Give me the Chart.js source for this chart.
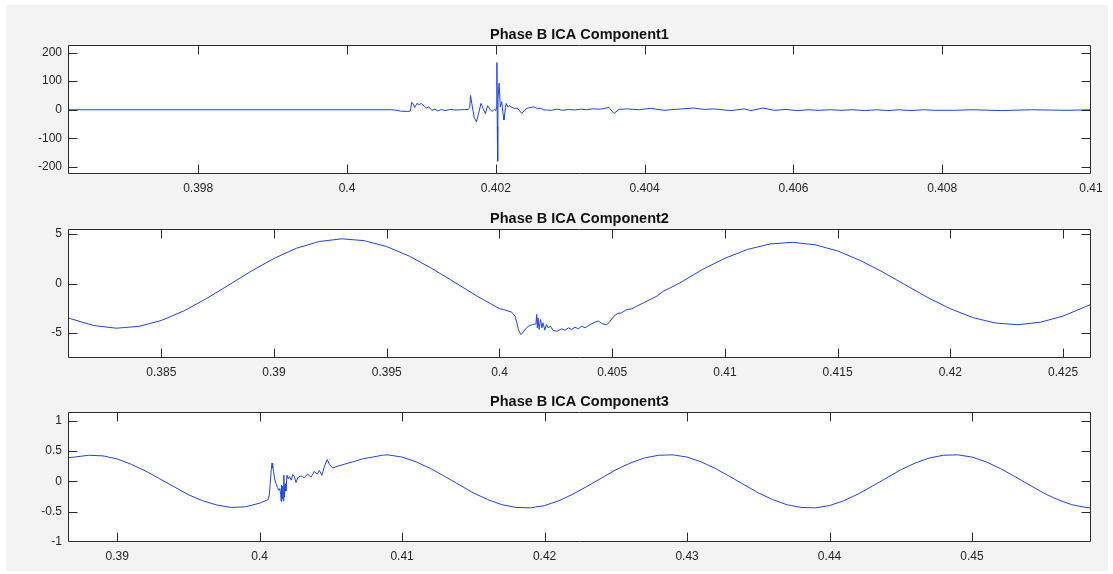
<!DOCTYPE html>
<html><head><meta charset="utf-8">
<script src="https://cdn.jsdelivr.net/npm/chart.js@4.4.1/dist/chart.umd.min.js"></script>
<style>
html,body{margin:0;padding:0;background:#fff;width:1113px;height:574px;overflow:hidden}
#fig{position:absolute;left:6px;top:5px;width:1102px;height:566px;background:#f3f3f3}
canvas{position:absolute;left:0}
</style></head><body>
<div id="fig"></div>
<canvas id="c1" width="1113" height="178" style="top:26px"></canvas>
<canvas id="c2" width="1113" height="178" style="top:210px"></canvas>
<canvas id="c3" width="1113" height="179" style="top:393px"></canvas>
<script>
// ---------- DATA ----------
const titles = ["Phase B ICA Component1", "Phase B ICA Component2", "Phase B ICA Component3"];

const comp1X = [0.39625,0.4006,0.40067,0.40072,0.4008,0.40085,0.40087,0.40089,0.40091,0.40094,0.40097,0.401,0.40104,0.40107,0.4011,0.40114,0.40118,0.40122,0.40127,0.40132,0.40138,0.40145,0.40155,0.40163,0.40165,0.40166,0.40168,0.40171,0.40174,0.40177,0.4018,0.40183,0.40186,0.40189,0.40192,0.40195,0.40198,0.402,0.40201,0.402015,0.40202,0.402025,0.40203,0.402045,0.40206,0.40208,0.4021,0.40211,0.40213,0.40214,0.40216,0.40218,0.40222,0.40226,0.40229,0.40232,0.40235,0.40239,0.40242,0.40246,0.40251,0.40256,0.4026,0.40264,0.40269,0.40275,0.40282,0.4029,0.40298,0.40306,0.40314,0.40322,0.4033,0.40341,0.40352,0.40359,0.40365,0.40377,0.40392,0.40408,0.40426,0.40445,0.40466,0.4048,0.40493,0.40516,0.40534,0.40543,0.40559,0.40574,0.4059,0.40606,0.4062,0.40633,0.4065,0.40664,0.4068,0.40696,0.40712,0.40727,0.40742,0.40758,0.40775,0.4079,0.40817,0.4084,0.4088,0.4092,0.40969,0.41];
const comp1Y = [0,0,-2,-5,-6,-5,26,20,8,22,18,22,12,6,10,-2,2,-4,1,-3,1,-1,0,1,8,50,18,-28,-42,-12,22,4,-14,14,2,-6,2,-3,8,165,-60,-180,40,93,10,28,-20,-36,8,22,10,14,8,4,6,-4,-13,0,5,8,10,4,5,0,-1,-2,2,-2,1,-1,2,0,3,2,8,-13,1,3,0,5,-2,2,6,1,3,-3,3,-3,6,-2,1,-3,0,-2,0,-2,0,-3,0,-3,0,-3,0,-2,-2,0,-3,0,-2,0];

const comp2X = [0.38086,0.381,0.382,0.383,0.384,0.385,0.386,0.387,0.388,0.389,0.39,0.391,0.392,0.393,0.394,0.395,0.396,0.397,0.398,0.399,0.4,0.40017,0.40055,0.40069,0.40077,0.40084,0.40094,0.40103,0.40113,0.40128,0.40147,0.40162,0.40165,0.40168,0.40171,0.40176,0.40182,0.40188,0.40193,0.40201,0.40208,0.40216,0.40226,0.40238,0.40254,0.40276,0.40291,0.40306,0.40321,0.40335,0.4035,0.40365,0.4038,0.40402,0.40424,0.40439,0.40454,0.40476,0.40491,0.40505,0.40523,0.40542,0.40564,0.40587,0.40609,0.40639,0.40668,0.40698,0.40727,0.40757,0.40801,0.409,0.41,0.411,0.412,0.413,0.414,0.415,0.416,0.417,0.418,0.419,0.42,0.421,0.422,0.423,0.424,0.425,0.426,0.42624];
const comp2Y = [-3.45,-3.56,-4.23,-4.5,-4.32,-3.72,-2.76,-1.52,-0.14,1.26,2.53,3.56,4.23,4.5,4.32,3.72,2.76,1.52,0.14,-1.26,-2.53,-2.62,-2.89,-3.29,-3.96,-4.63,-5.13,-4.97,-4.63,-4.3,-4.13,-4.06,-3.12,-4.46,-3.46,-4.63,-3.63,-4.46,-3.96,-4.7,-4.13,-4.46,-4.3,-4.73,-4.8,-4.56,-4.7,-4.46,-4.63,-4.4,-4.56,-4.3,-4.46,-4.13,-3.89,-3.79,-4.03,-4.16,-3.79,-3.36,-3.02,-2.95,-2.62,-2.55,-2.28,-1.95,-1.61,-1.28,-0.77,-0.44,0.07,1.41,2.54,3.43,3.98,4.15,3.9,3.28,2.33,1.16,-0.13,-1.41,-2.54,-3.43,-3.98,-4.15,-3.9,-3.28,-2.33,-2.1];

const comp3X = [0.38655,0.387,0.388,0.389,0.39,0.391,0.392,0.393,0.394,0.395,0.396,0.397,0.398,0.399,0.4,0.4006,0.40068,0.40074,0.40082,0.40087,0.4009,0.40093,0.40098,0.40105,0.40115,0.40125,0.40135,0.40142,0.40148,0.40151,0.40154,0.40158,0.40162,0.40166,0.4017,0.40174,0.40179,0.40184,0.40192,0.402,0.4021,0.40222,0.40232,0.40244,0.40255,0.40268,0.4029,0.40313,0.40337,0.4036,0.40384,0.40405,0.40419,0.40437,0.40454,0.40474,0.4049,0.40512,0.4055,0.40605,0.40652,0.40722,0.40792,0.40861,0.409,0.41,0.411,0.412,0.413,0.414,0.415,0.416,0.417,0.418,0.419,0.42,0.421,0.422,0.423,0.424,0.425,0.426,0.427,0.428,0.429,0.43,0.431,0.432,0.433,0.434,0.435,0.436,0.437,0.438,0.439,0.44,0.441,0.442,0.443,0.444,0.445,0.446,0.447,0.448,0.449,0.45,0.451,0.452,0.453,0.454,0.455,0.456,0.457,0.458,0.45835];
const comp3Y = [0.39,0.4,0.43,0.42,0.37,0.28,0.17,0.04,-0.09,-0.22,-0.32,-0.39,-0.43,-0.42,-0.36,-0.3,-0.22,-0.05,0.2,0.3,0.22,0.26,0.16,0.04,-0.04,-0.1,-0.15,-0.12,-0.22,-0.33,-0.06,-0.28,-0.08,-0.32,0.1,-0.26,-0.04,-0.16,0.1,0.04,0.08,0.02,0.11,0.08,-0.02,0.06,0.09,0.06,0.12,0.07,0.16,0.12,0.18,0.1,0.24,0.36,0.28,0.22,0.25,0.29,0.32,0.37,0.4,0.43,0.437,0.4,0.32,0.21,0.08,-0.055,-0.19,-0.3,-0.385,-0.43,-0.437,-0.4,-0.32,-0.21,-0.08,0.055,0.19,0.3,0.385,0.43,0.437,0.4,0.32,0.21,0.08,-0.055,-0.19,-0.3,-0.385,-0.43,-0.437,-0.4,-0.32,-0.21,-0.08,0.055,0.19,0.3,0.385,0.43,0.437,0.4,0.32,0.21,0.08,-0.055,-0.19,-0.3,-0.385,-0.43,-0.44];

const xTicks1 = [0.398,0.4,0.402,0.404,0.406,0.408,0.41];
const yTicks1 = [-200,-100,0,100,200];
const xTicks2 = [0.385,0.39,0.395,0.4,0.405,0.41,0.415,0.42,0.425];
const yTicks2 = [-5,0,5];
const xTicks3 = [0.39,0.4,0.41,0.42,0.43,0.44,0.45];
const yTicks3 = [-1,-0.5,0,0.5,1];

const xRange1 = [0.39625, 0.41], yRange1 = [-225, 226];
const xRange2 = [0.38086, 0.42624], yRange2 = [-7.5, 5.47];
const xRange3 = [0.38655, 0.45835], yRange3 = [-1, 1.14];

// ---------- RENDER ----------
const FONT = "'Liberation Sans', Arial, Helvetica, sans-serif";
const fmt = v => parseFloat(Number(v).toFixed(4)).toString();

const framePlugin = {
  id: 'matlabFrame',
  beforeDraw(chart) {
    const a = chart.chartArea, c = chart.ctx;
    c.save(); c.fillStyle = '#ffffff';
    c.fillRect(a.left, a.top, a.right - a.left, a.bottom - a.top);
    c.restore();
  },
  afterDraw(chart) {
    const a = chart.chartArea, c = chart.ctx;
    const L = Math.round(a.left) + 0.5, R = Math.round(a.right) - 0.5;
    const T = Math.round(a.top) + 0.5, B = Math.round(a.bottom) - 0.5;
    const tl = 9;
    c.save();
    c.strokeStyle = '#2b2b2b'; c.lineWidth = 1;
    c.beginPath();
    c.rect(L, T, R - L, B - T);
    const xs = chart.scales.x, ys = chart.scales.y;
    xs.ticks.forEach(t => {
      const p = Math.round(xs.getPixelForValue(t.value)) + 0.5;
      if (p <= L + 1 || p >= R - 1) return;
      c.moveTo(p, B); c.lineTo(p, B - tl);
      c.moveTo(p, T); c.lineTo(p, T + tl);
    });
    ys.ticks.forEach(t => {
      const p = Math.round(ys.getPixelForValue(t.value)) + 0.5;
      if (p <= T + 1 || p >= B - 1) return;
      c.moveTo(L, p); c.lineTo(L + tl, p);
      c.moveTo(R, p); c.lineTo(R - tl, p);
    });
    c.stroke();
    c.restore();
  }
};

function makePanel(id, title, xsArr, ysArr, xRange, yRange, xTicks, yTicks) {
  const pts = xsArr.map((x, i) => ({ x: x, y: ysArr[i] }));
  return new Chart(document.getElementById(id), {
    type: 'line',
    data: { datasets: [{ data: pts, borderColor: '#2142e2', borderWidth: 1, pointRadius: 0, tension: 0, fill: false }] },
    options: {
      responsive: false, animation: false, events: [],
      layout: { padding: { left: 0, right: 22, top: 0, bottom: 0 } },
      plugins: {
        legend: { display: false }, tooltip: { enabled: false },
        title: { display: true, text: title, fullSize: false, color: '#111111',
                 font: { family: FONT, size: 14.5, weight: 'bold', lineHeight: 1.2 },
                 padding: { top: 0, bottom: 1.8 } }
      },
      scales: {
        x: {
          type: 'linear', min: xRange[0], max: xRange[1],
          afterBuildTicks: s => { s.ticks = xTicks.map(v => ({ value: v })); },
          afterFit: s => { s.height = 30; },
          grid: { display: false, drawTicks: false }, border: { display: false },
          ticks: { callback: v => fmt(v), color: '#262626', padding: 7, maxRotation: 0, autoSkip: false,
                   font: { family: FONT, size: 12 } }
        },
        y: {
          type: 'linear', min: yRange[0], max: yRange[1],
          afterBuildTicks: s => { s.ticks = yTicks.map(v => ({ value: v })); },
          afterFit: s => { s.width = 68; },
          grid: { display: false, drawTicks: false }, border: { display: false },
          ticks: { callback: v => fmt(v), color: '#262626', padding: 6, autoSkip: false,
                   font: { family: FONT, size: 12 } }
        }
      }
    },
    plugins: [framePlugin]
  });
}

makePanel('c1', titles[0], comp1X, comp1Y, xRange1, yRange1, xTicks1, yTicks1);
makePanel('c2', titles[1], comp2X, comp2Y, xRange2, yRange2, xTicks2, yTicks2);
makePanel('c3', titles[2], comp3X, comp3Y, xRange3, yRange3, xTicks3, yTicks3);
</script>
</body></html>
